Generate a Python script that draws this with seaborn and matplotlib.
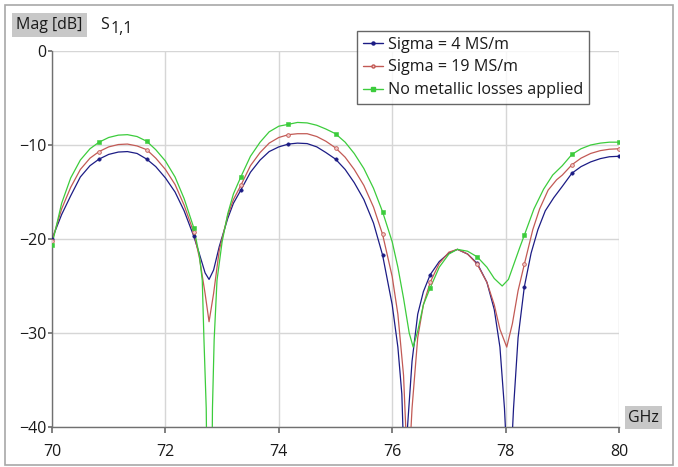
import numpy as np
import pandas as pd
import matplotlib
matplotlib.use("Agg")
import matplotlib.pyplot as plt
from matplotlib.lines import Line2D
from matplotlib.patches import Rectangle
import seaborn as sns

# ---------------- data ----------------
labels = ["Sigma = 4 MS/m", "Sigma = 19 MS/m", "No metallic losses applied"]
marker_f = [70.0, 70.83, 71.67, 72.5, 73.33, 74.17, 75.0, 75.83, 76.67, 77.5, 78.33, 79.17, 80.0]

blue_f = [70.0, 70.17, 70.33, 70.5, 70.67, 70.83, 71.0, 71.17, 71.33, 71.5, 71.67, 71.83, 72.0,
          72.17, 72.33, 72.5, 72.6, 72.7, 72.77, 72.85, 72.95, 73.1, 73.2, 73.33, 73.5, 73.67,
          73.83, 74.0, 74.17, 74.33, 74.5, 74.67, 74.83, 75.0, 75.17, 75.33, 75.5, 75.67, 75.83,
          76.0, 76.1, 76.17, 76.22, 76.27, 76.35, 76.45, 76.55, 76.67, 76.83, 77.0, 77.15, 77.33,
          77.5, 77.67, 77.8, 77.9, 77.98, 78.06, 78.14, 78.22, 78.33, 78.45, 78.57, 78.7, 78.85,
          79.0, 79.17, 79.33, 79.5, 79.67, 79.83, 80.0]
blue_db = [-20.0, -17.4, -15.4, -13.4, -12.2, -11.5, -11.0, -10.75, -10.7, -10.9, -11.5, -12.3, -13.5,
           -15.0, -17.0, -19.7, -21.6, -23.6, -24.3, -23.3, -20.8, -17.8, -16.2, -14.8, -12.9, -11.6,
           -10.7, -10.2, -9.9, -9.8, -9.85, -10.2, -10.8, -11.5, -12.6, -14.0, -15.8, -18.3, -21.7,
           -27.0, -31.5, -36.5, -46.0, -40.0, -33.0, -28.0, -25.6, -23.8, -22.4, -21.5, -21.1, -21.6,
           -22.6, -24.6, -27.5, -31.5, -38.0, -48.0, -38.0, -30.5, -25.1, -21.5, -19.0, -17.0, -15.6,
           -14.4, -13.0, -12.3, -11.8, -11.45, -11.25, -11.2]

red_f = [70.0, 70.17, 70.33, 70.5, 70.67, 70.83, 71.0, 71.17, 71.33, 71.5, 71.67, 71.83, 72.0,
         72.17, 72.33, 72.5, 72.6, 72.7, 72.77, 72.85, 72.95, 73.1, 73.2, 73.33, 73.5, 73.67,
         73.83, 74.0, 74.17, 74.33, 74.5, 74.67, 74.83, 75.0, 75.17, 75.33, 75.5, 75.67, 75.83,
         76.0, 76.1, 76.2, 76.28, 76.35, 76.45, 76.55, 76.67, 76.83, 77.0, 77.15, 77.33, 77.5,
         77.67, 77.8, 77.9, 78.02, 78.12, 78.22, 78.33, 78.48, 78.6, 78.75, 78.9, 79.0, 79.17,
         79.33, 79.5, 79.67, 79.83, 80.0]
red_db = [-20.2, -16.8, -14.5, -12.6, -11.4, -10.7, -10.2, -9.95, -9.9, -10.1, -10.5, -11.4, -12.6,
          -14.2, -16.4, -19.3, -22.0, -25.8, -28.8, -25.8, -21.2, -17.5, -15.8, -14.3, -12.2, -10.8,
          -9.8, -9.2, -8.9, -8.8, -8.8, -9.1, -9.6, -10.3, -11.3, -12.6, -14.3, -16.6, -19.5,
          -24.0, -28.0, -34.5, -46.0, -38.0, -30.5, -27.0, -24.6, -22.6, -21.4, -21.1, -21.6, -22.7,
          -24.6, -27.0, -29.6, -31.5, -29.0, -25.5, -22.7, -19.0, -16.8, -14.8, -13.7, -13.2, -12.1,
          -11.4, -10.9, -10.6, -10.45, -10.4]

green_f = [70.0, 70.17, 70.33, 70.5, 70.67, 70.83, 71.0, 71.17, 71.33, 71.5, 71.67, 71.83, 72.0,
           72.17, 72.33, 72.5, 72.6, 72.65, 72.68, 72.72, 72.76, 72.8, 72.83, 72.86, 72.91, 73.0,
           73.1, 73.2, 73.33, 73.5, 73.67, 73.83, 74.0, 74.17, 74.33, 74.5, 74.67, 74.83, 75.0,
           75.17, 75.33, 75.5, 75.67, 75.83, 76.0, 76.1, 76.2, 76.3, 76.37, 76.45, 76.55, 76.67,
           76.83, 77.0, 77.15, 77.33, 77.5, 77.67, 77.8, 77.94, 78.05, 78.15, 78.25, 78.33, 78.5,
           78.67, 78.83, 79.0, 79.17, 79.33, 79.5, 79.67, 79.83, 80.0]
green_db = [-20.6, -16.2, -13.5, -11.6, -10.4, -9.7, -9.2, -8.95, -8.9, -9.1, -9.6, -10.5, -11.7,
            -13.4, -15.7, -18.8, -21.8, -24.4, -30.7, -38.0, -60.0, -60.0, -38.0, -30.7, -24.4, -20.3,
            -17.3, -15.2, -13.4, -11.2, -9.7, -8.6, -8.0, -7.8, -7.6, -7.65, -7.9, -8.3, -8.8,
            -9.7, -10.9, -12.5, -14.6, -17.1, -20.3, -23.0, -26.3, -30.0, -31.5, -29.8, -27.0, -25.2,
            -23.0, -21.6, -21.1, -21.3, -21.9, -23.0, -24.2, -25.0, -24.3, -22.6, -20.9, -19.6, -16.8,
            -14.7, -13.2, -12.2, -11.0, -10.4, -10.0, -9.8, -9.7, -9.7]

xticks = [70, 72, 74, 76, 78, 80]
yticks = [0, -10, -20, -30, -40]

colors = {labels[0]: "#1c1c85", labels[1]: "#c25a55", labels[2]: "#3ccc3c"}

# ---------------- build table ----------------
frames = []
for lab, f, m in zip(labels, [blue_f, red_f, green_f], [blue_db, red_db, green_db]):
    d = pd.DataFrame({"f": f, "mag": m})
    d["series"] = lab
    d["marker"] = [any(np.isclose(v, mf) for mf in marker_f) for v in f]
    frames.append(d)
df = pd.concat(frames, ignore_index=True)

# ---------------- plot ----------------
W, H = 678, 467
sns.set_theme(style="white")
plt.rcParams["font.family"] = ["Open Sans", "DejaVu Sans"]

fig = plt.figure(figsize=(W / 100, H / 100), dpi=100)
ax = fig.add_axes([52 / W, 1 - 427 / H, (619 - 52) / W, (427 - 51) / H])

sns.lineplot(data=df, x="f", y="mag", hue="series", palette=colors, estimator=None,
             sort=False, legend=False, linewidth=0.9, ax=ax, zorder=3)

mk = df[df["marker"]]
sns.scatterplot(data=mk[mk.series == labels[0]], x="f", y="mag", color=colors[labels[0]],
                marker="o", s=6, edgecolor=colors[labels[0]], linewidth=0.4, ax=ax, zorder=4)
sns.scatterplot(data=mk[mk.series == labels[1]], x="f", y="mag", color="#f2c8c8",
                marker="o", s=7, edgecolor=colors[labels[1]], linewidth=0.6, ax=ax, zorder=4)
sns.scatterplot(data=mk[mk.series == labels[2]], x="f", y="mag", color=colors[labels[2]],
                marker="s", s=9, edgecolor=colors[labels[2]], linewidth=0.4, ax=ax, zorder=4)

ax.set_xlim(70, 80)
ax.set_ylim(-40, 0)
ax.set_xticks(xticks)
ax.set_yticks(yticks)
ax.set_xlabel("")
ax.set_ylabel("")
ax.grid(True, color="#d6d6d6", linewidth=1.0)
ax.set_axisbelow(True)
for s in ["top", "right"]:
    ax.spines[s].set_visible(False)
for s in ["left", "bottom"]:
    ax.spines[s].set_color("#707070")
    ax.spines[s].set_linewidth(1.0)
ax.tick_params(axis="both", which="both", direction="out", colors="#707070",
               labelcolor="#1a1a1a", labelsize=11.5)
ax.tick_params(axis="y", length=3, pad=1, left=True)
ax.tick_params(axis="x", length=4, pad=8, bottom=True)

# legend
handles = [
    Line2D([], [], color=colors[labels[0]], lw=1, marker="o", markersize=2.2,
           markerfacecolor=colors[labels[0]], markeredgecolor=colors[labels[0]]),
    Line2D([], [], color=colors[labels[1]], lw=1, marker="o", markersize=2.2,
           markerfacecolor="#f2c8c8", markeredgecolor=colors[labels[1]]),
    Line2D([], [], color=colors[labels[2]], lw=1, marker="s", markersize=2.2,
           markerfacecolor=colors[labels[2]], markeredgecolor=colors[labels[2]]),
]
leg = fig.legend(handles, labels, loc="upper left", bbox_to_anchor=(357 / W, 1 - 31 / H),
                 frameon=True, fancybox=False, shadow=False, fontsize=11.6,
                 handlelength=1.25, handletextpad=0.35, labelspacing=0.42,
                 borderpad=0.35, borderaxespad=0)
leg.get_frame().set_edgecolor("#404040")
leg.get_frame().set_linewidth(1.0)
leg.get_frame().set_facecolor("white")
for t in leg.get_texts():
    t.set_color("#1a1a1a")

# header texts
fig.text(49.5 / W, 1 - 25 / H, "Mag [dB]", ha="center", va="center", fontsize=11.5,
         color="#1a1a1a", bbox=dict(boxstyle="square,pad=0.28", fc="#c8c8c8", ec="none"))
fig.text(100 / W, 1 - 29 / H, "S", ha="left", va="baseline", fontsize=11.5, color="#1a1a1a")
fig.text(111 / W, 1 - 33 / H, "1,1", ha="left", va="baseline", fontsize=11.5, color="#1a1a1a")
fig.text(643.5 / W, 1 - 417.5 / H, "GHz", ha="center", va="center", fontsize=11.5,
         color="#1a1a1a", bbox=dict(boxstyle="square,pad=0.22", fc="#c8c8c8", ec="none"))

# outer frame
fig.patches.append(Rectangle((5 / W, 2 / H), (673 - 5) / W, (465 - 5) / H,
                             transform=fig.transFigure, fill=False,
                             edgecolor="#a8a8a8", linewidth=1.2))

fig.savefig("out.png", dpi=100)
